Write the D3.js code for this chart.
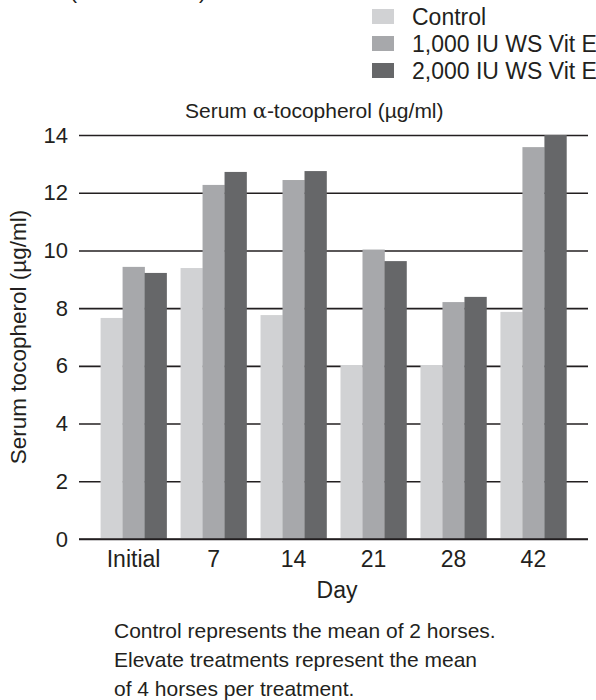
<!DOCTYPE html>
<html>
<head>
<meta charset="utf-8">
<script src="https://cdn.jsdelivr.net/npm/d3@7"></script>
<style>
  html, body { margin: 0; padding: 0; background: #fff; }
  svg { display: block; }
  text { font-family: "Liberation Sans", Arial, Helvetica, sans-serif; fill: #231f20; }
</style>
</head>
<body>
<svg id="chart" width="596" height="700"></svg>
<script>
// ---- data ----
const days = ["Initial", "7", "14", "21", "28", "42"];
const seriesNames = ["Control", "1,000 IU WS Vit E", "2,000 IU WS Vit E"];
const controlValues = [7.66, 9.39, 7.76, 6.03, 6.03, 7.87];
const vitE1000Values = [9.43, 12.27, 12.44, 10.03, 8.21, 13.58];
const vitE2000Values = [9.22, 12.72, 12.75, 9.63, 8.39, 14.0];
const yTicks = [0, 2, 4, 6, 8, 10, 12, 14];
const seriesColors = ["#d1d2d4", "#a7a8ab", "#666769"];
const footnoteLines = [
  "Control represents the mean of 2 horses.",
  "Elevate treatments represent the mean",
  "of 4 horses per treatment."
];

const seriesValues = [controlValues, vitE1000Values, vitE2000Values];

const svg = d3.select("#chart");
const FS = 21;

const plotLeft = 79, plotRight = 588, plotTop = 135, plotBottom = 539;

const x0 = d3.scaleBand().domain(days).range([plotLeft, plotRight])
  .paddingInner(0.175).paddingOuter(0.27);
const x1 = d3.scaleBand().domain(seriesNames).range([0, x0.bandwidth()]).padding(0);
const y = d3.scaleLinear().domain([0, 14]).range([plotBottom, plotTop]);
const color = d3.scaleOrdinal().domain(seriesNames).range(seriesColors);

// cropped parentheses at the very top (from text above the crop)
svg.append("text").attr("x", 70).attr("y", -1.5).attr("font-size", FS).text("(");
svg.append("text").attr("x", 199).attr("y", -1.5).attr("font-size", FS).text(")");

// gridlines + y axis labels
const yAxis = d3.axisLeft(y).tickValues(yTicks).tickSize(-(plotRight - plotLeft)).tickPadding(11)
  .tickFormat(d3.format("d"));
const gy = svg.append("g").attr("transform", `translate(${plotLeft},0)`).call(yAxis);
gy.select(".domain").remove();
gy.selectAll(".tick line").attr("stroke", "#231f20").attr("stroke-width", 1.6);
gy.selectAll(".tick text").attr("font-size", 22).attr("fill", "#231f20")
  .style("font-family", '"Liberation Sans", Arial, sans-serif');

// bars
const rows = days.map((d, i) => ({ day: d, vals: seriesNames.map((s, j) => ({ s, v: seriesValues[j][i] })) }));
svg.append("g").selectAll("g").data(rows).join("g")
  .attr("transform", d => `translate(${x0(d.day)},0)`)
  .selectAll("rect").data(d => d.vals).join("rect")
  .attr("x", d => x1(d.s))
  .attr("width", x1.bandwidth() + 0.3)
  .attr("y", d => y(d.v))
  .attr("height", d => y(0) - y(d.v))
  .attr("fill", d => color(d.s));

// baseline over bars
svg.append("line").attr("x1", plotLeft).attr("x2", plotRight).attr("y1", y(0)).attr("y2", y(0))
  .attr("stroke", "#231f20").attr("stroke-width", 1.6);

// x axis labels
const xAxis = d3.axisBottom(x0).tickSize(0).tickPadding(12);
const gx = svg.append("g").attr("transform", `translate(0,${plotBottom})`).call(xAxis);
gx.select(".domain").remove();
gx.selectAll(".tick text").attr("font-size", 23).attr("fill", "#231f20")
  .style("font-family", '"Liberation Sans", Arial, sans-serif');

// axis titles
svg.append("text").attr("x", 337).attr("y", 598).attr("text-anchor", "middle")
  .attr("font-size", 23).text("Day");
svg.append("text").attr("transform", `translate(26,${(plotTop + plotBottom) / 2}) rotate(-90)`)
  .attr("text-anchor", "middle").attr("font-size", 22.5).text("Serum tocopherol (µg/ml)");

// chart title
const title = svg.append("text").attr("x", 185).attr("y", 118).attr("font-size", FS);
title.append("tspan").text("Serum ");
title.append("tspan").style("font-family", '"DejaVu Serif", "Liberation Serif", serif').text("α");
title.append("tspan").text("-tocopherol (µg/ml)");

// legend
const leg = svg.append("g").selectAll("g").data(seriesNames).join("g")
  .attr("transform", (d, i) => `translate(372,${25 + i * 27})`);
leg.append("rect").attr("x", 0).attr("y", -16).attr("width", 22).attr("height", 15)
  .attr("fill", d => color(d));
leg.append("text").attr("x", 40).attr("y", 0).attr("font-size", 23).text(d => d);

// footnote
svg.append("g").selectAll("text").data(footnoteLines).join("text")
  .attr("x", 114).attr("y", (d, i) => 638 + i * 29)
  .attr("font-size", FS).text(d => d);
</script>
</body>
</html>
